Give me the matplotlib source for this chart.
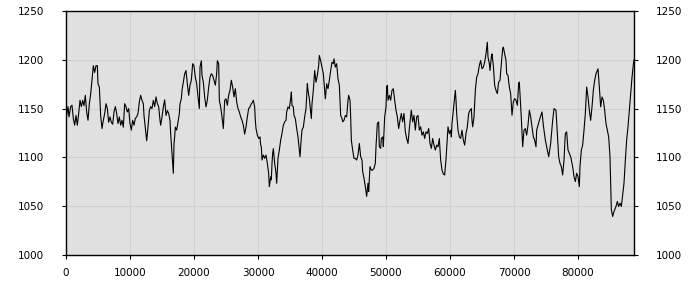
import matplotlib
matplotlib.use("Agg")
import matplotlib.pyplot as plt
from matplotlib.ticker import FixedLocator

x_vals = [
    100, 312, 469, 729, 938, 1146, 1354, 1563, 1771, 1979, 2188, 2396, 2604, 2813, 3021, 3229,
    3438, 3646, 3854, 4063, 4271, 4479, 4688, 4896, 5000, 5208, 5417, 5625, 5833, 6042, 6250,
    6458, 6667, 6875, 7083, 7292, 7500, 7708, 7917, 8125, 8333, 8542, 8750, 8958, 9167, 9375,
    9583, 9792, 10000, 10208, 10417, 10625, 10833, 11042, 11250, 11458, 11667, 11875, 12083,
    12188, 12396, 12604, 12813, 13021, 13229, 13438, 13646, 13854, 14063, 14271, 14479, 14688,
    14792, 15000, 15208, 15417, 15625, 15833, 16042, 16250, 16354, 16458, 16563, 16667, 16771,
    16875, 16979, 17083, 17292, 17500, 17708, 17813, 18021, 18125, 18333, 18542, 18750, 18958,
    19167, 19375, 19583, 19792, 20000, 20208, 20417, 20625, 20833, 20938, 21146, 21250, 21458,
    21667, 21875, 22083, 22292, 22500, 22708, 22917, 23125, 23333, 23542, 23646, 23854, 23958,
    24167, 24375, 24583, 24792, 25000, 25208, 25417, 25625, 25833, 26042, 26250, 26458, 26667,
    26875, 27083, 27292, 27500, 27708, 27917, 28125, 28333, 28542, 28750, 28958, 29167,
    29271, 29479, 29583, 29688, 29896, 30104, 30313, 30417, 30521, 30625, 30833, 31042, 31250,
    31458, 31667, 31771, 31979, 32083, 32188, 32292, 32396, 32604, 32813, 32917, 33021, 33125,
    33333, 33542, 33750, 33958, 34167, 34375, 34479, 34688, 34896, 35104, 35208, 35313, 35521,
    35625, 35833, 36042, 36250, 36458, 36563, 36771, 36875, 37083, 37292, 37500, 37708, 37813,
    38021, 38125, 38333, 38438, 38646, 38854, 39063, 39271, 39479, 39583, 39792, 40000, 40208,
    40417, 40521, 40729, 40938, 41146, 41354, 41563, 41771, 41875, 42083, 42292, 42500, 42708,
    42813, 42917, 43125, 43229, 43438, 43646, 43854, 44063,
    44167, 44375, 44479, 44583, 44792, 45000, 45208, 45417, 45625, 45833, 46042, 46250, 46354,
    46563, 46771, 46979, 47188, 47292, 47500, 47708, 47917, 48125, 48333, 48438, 48646, 48854,
    48958, 49167, 49271, 49479, 49583, 49792, 50000, 50104, 50208, 50313, 50521, 50729, 50938,
    51146, 51354, 51563, 51771, 51979, 52188, 52396, 52604, 52813, 53021, 53229, 53438, 53646,
    53854, 53958, 54167, 54375, 54583, 54792, 55000, 55208, 55417, 55625, 55833, 56042, 56250,
    56458, 56667, 56875, 57083, 57292, 57500, 57708, 57917, 58125, 58333, 58542, 58750,
    58958, 59167, 59375, 59583, 59688, 59896, 60104, 60208, 60313, 60521, 60729, 60833, 60938,
    61042, 61250, 61458, 61667, 61875, 62083, 62292, 62500, 62708, 62917, 63125, 63333, 63438,
    63542, 63750, 63958, 64167, 64375, 64583, 64792, 65000, 65208, 65417, 65625, 65833, 65938,
    66146, 66250, 66458, 66563, 66771, 66979, 67188, 67396, 67604, 67813, 68021, 68229, 68333,
    68542, 68750, 68854, 69063, 69271, 69479, 69688, 69896, 70104, 70313, 70521, 70729, 70833,
    70938, 71146, 71354, 71563, 71771, 71979, 72188, 72396, 72604, 72813, 73021, 73229, 73438,
    73542, 73958, 74375, 74583, 74896, 75104, 75417, 75729, 76042, 76250, 76563, 76771, 76979,
    77188, 77396, 77604, 77813, 78021, 78229, 78438, 78646, 78854, 79167, 79375, 79583, 79792,
    80000, 80208, 80313, 80521, 80729, 80938, 81146, 81354, 81563, 81771, 81979, 82188, 82396,
    82604, 82813, 83021, 83125, 83333, 83542, 83750, 83958, 84167, 84375, 84583, 84792, 85000,
    85208, 85417, 85625, 85938, 86146, 86354, 86563, 86771, 86979, 87188, 87396, 87604, 87813,
    88021, 88229, 88438, 88646, 88750,
]

y_vals = [
    1143, 1152, 1141.5, 1152, 1153.4, 1139.8, 1133, 1143, 1133, 1144.9, 1158.5, 1152, 1158.5, 1153, 1163.6, 1146.6,
    1138, 1155, 1165, 1179, 1194, 1187, 1194, 1194, 1175.5, 1172, 1143, 1129.6, 1138, 1145, 1155,
    1150, 1136, 1141.5, 1136, 1134, 1146.6, 1152, 1145, 1134.7, 1141.5, 1133, 1138, 1131, 1155, 1152,
    1146.6, 1150, 1134.7, 1128, 1138, 1133, 1140, 1141.5, 1145, 1157, 1163.6, 1158.5, 1155,
    1143, 1129.6, 1117, 1131, 1148, 1152, 1150, 1158.5, 1152, 1162, 1155, 1152, 1138,
    1133, 1141.5, 1151.7, 1159, 1143, 1148, 1145, 1138, 1124.5, 1114, 1104, 1094, 1083.7,
    1114, 1121, 1131, 1128, 1136, 1145, 1155, 1160, 1168.7, 1177, 1185.7, 1189, 1175.5,
    1163.6, 1174, 1179, 1196, 1194, 1182, 1175.5, 1162, 1150, 1192.5, 1199, 1184, 1177,
    1162, 1151.7, 1158.5, 1172, 1182, 1185.7, 1184, 1179, 1174, 1185.7, 1199, 1196, 1158.5,
    1151.7, 1141.5, 1129.6, 1158.5, 1160, 1153.4, 1163.6, 1168.7, 1179, 1172, 1162, 1170.4, 1156.8,
    1150, 1146.6, 1141.5, 1138, 1133, 1123.8, 1131, 1141.5, 1150, 1151.7, 1155, 1156.8,
    1158.5, 1151.7, 1138, 1129.6, 1122.8, 1119.4, 1121, 1112.6, 1111, 1097.3, 1102.4, 1099, 1102.4,
    1094, 1083.7, 1070, 1080, 1077, 1094, 1104, 1109, 1094, 1083.7, 1073.5, 1085.4, 1099,
    1107.5, 1117.7, 1124.5, 1133, 1136.4, 1138, 1146.6, 1151.7, 1150, 1160, 1167, 1153.4, 1151.7,
    1143, 1139.8, 1129.6, 1121, 1107.5, 1100.7, 1121, 1128, 1131, 1141.5, 1150, 1175.5, 1168.7,
    1160, 1153.4, 1139.8, 1155, 1168.7, 1189, 1177, 1184, 1194, 1204.4, 1199, 1192.5, 1185.7,
    1168.7, 1160, 1175.5, 1170.4, 1179, 1189, 1197.6, 1196, 1201, 1192.5, 1196, 1180.6, 1174,
    1158.5, 1143, 1139.8, 1136.4, 1138, 1143, 1141.5, 1158.5,
    1163.6, 1158.5, 1141.5, 1117.7, 1107.5, 1099, 1099, 1097.3, 1102.4, 1114.3, 1100.7, 1097.3, 1085.4,
    1078.6, 1070, 1060, 1073.5, 1065, 1090.5, 1087, 1087, 1088.8, 1094, 1111, 1134.7, 1136.4,
    1111, 1109.2, 1119.4, 1121, 1111, 1141.5, 1151.7, 1172, 1173.8, 1158.5, 1163.6, 1158.5, 1168.7,
    1170.4, 1158.5, 1148.3, 1141.5, 1129.6, 1138, 1145, 1136.4, 1145, 1126.2, 1119.4, 1114.3, 1129.6,
    1141.5, 1148.3, 1136.4, 1143, 1128, 1141.5, 1143, 1128, 1131.3, 1122.8, 1126.2, 1119.4, 1126.2,
    1124.5, 1129.6, 1114.3, 1109.2, 1119.4, 1112.6, 1107.5, 1112.6, 1110.9, 1119.4, 1097.3, 1087,
    1083, 1082, 1098, 1120, 1131.3, 1124.5, 1127.9, 1121, 1134.7, 1148.3, 1161.9, 1168.7, 1158.5,
    1144.9, 1127.9, 1121, 1119.4, 1127.9, 1117.7, 1112.6, 1124.5, 1131.3, 1144.9, 1148.3, 1150, 1138,
    1131.3, 1141.5, 1168.7, 1182.3, 1185.7, 1194.2, 1199.3, 1190.8, 1192.5, 1197.6, 1206, 1218, 1202.7,
    1196, 1189, 1202.7, 1206, 1194.2, 1173.8, 1168.7, 1165.3, 1177.2, 1179, 1196, 1211.2, 1213,
    1206, 1199.3, 1185.7, 1184, 1172, 1165.3, 1143.2, 1156.8, 1160.2, 1158.5, 1153.4, 1175.5, 1177.2,
    1165.3, 1139.8, 1110.9, 1127.9, 1129.6, 1122.8, 1133, 1148.3, 1141.5, 1131.3, 1121, 1117.7, 1110.9,
    1127.9, 1138, 1146.6, 1133, 1117.7, 1110.9, 1100.7, 1114.3, 1138, 1150, 1148.3, 1124.5, 1100.7,
    1093.9, 1090.5, 1082, 1097.3, 1124.5, 1126.2, 1107.5, 1104.1, 1100.7, 1090.5, 1080.3, 1075.2, 1083.7,
    1080.3, 1070.1, 1090.5, 1107.5, 1112.6, 1127.9, 1144.9, 1172.1, 1161.9, 1148.3, 1138, 1151.7, 1168.7,
    1178.9, 1185.7, 1189.1, 1190.8, 1172.1, 1151.7, 1161.9, 1158.5, 1148.3, 1134.7, 1127.9, 1121, 1100.7,
    1046.3, 1039.5, 1044.6, 1049.7, 1054.8, 1049.7, 1053.1, 1049.7, 1062, 1073.5, 1097, 1117.7, 1131.3,
    1148.3, 1165, 1182, 1195, 1200,
]

x_ticks = [0, 10000, 20000, 30000, 40000, 50000, 60000, 70000, 80000]
y_ticks = [1000, 1050, 1100, 1150, 1200, 1250]

fig = plt.figure(figsize=(7, 3), dpi=100)
ax = fig.add_axes([66 / 700, 45 / 300, 568 / 700, 244 / 300])
ax.set_facecolor("#e0e0e0")
ax.plot(x_vals, y_vals, color="black", linewidth=0.8)

ax.set_xlim(0, 88750)
ax.set_ylim(1000, 1250)
ax.xaxis.set_major_locator(FixedLocator(x_ticks))
ax.yaxis.set_major_locator(FixedLocator(y_ticks))
ax.set_xticklabels([str(v) for v in x_ticks])
ax.set_yticklabels([str(v) for v in y_ticks])
ax.grid(True, color="#cfcfcf", linewidth=0.8)
ax.set_axisbelow(True)

for s in ax.spines.values():
    s.set_color("black")
    s.set_linewidth(1.0)

ax.tick_params(axis="y", which="both", left=True, right=True, labelleft=True,
               labelright=True, direction="out", length=3, width=0.8,
               labelsize=7.5, pad=13)
ax.tick_params(axis="x", direction="out", length=3, width=0.8, labelsize=7.5, pad=6)

fig.savefig("out.png", dpi=100)
